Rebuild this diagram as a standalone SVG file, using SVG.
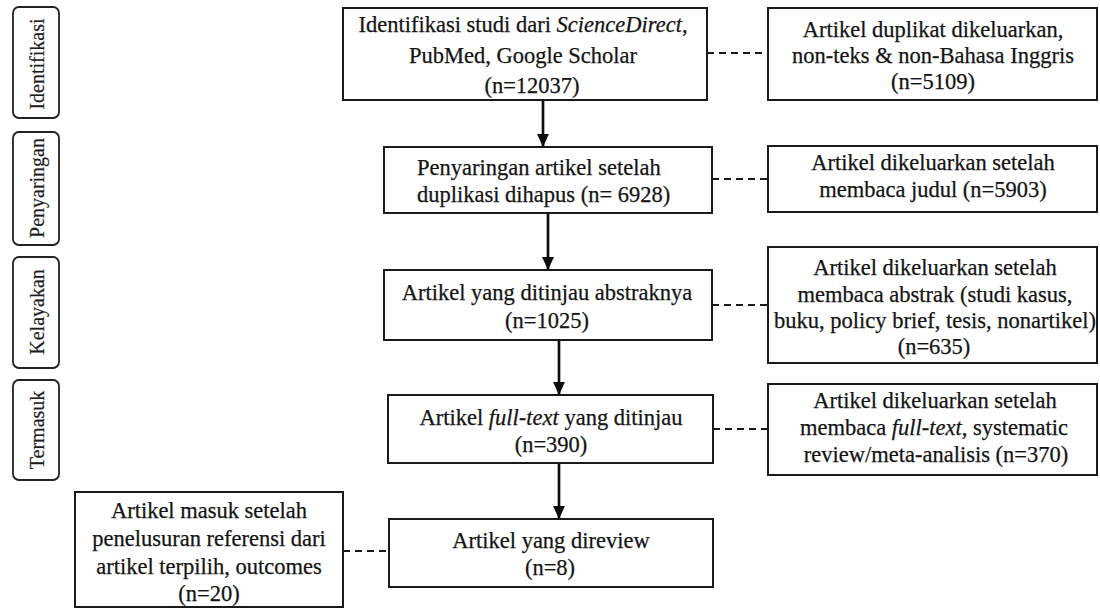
<svg xmlns="http://www.w3.org/2000/svg" width="1100" height="608" viewBox="0 0 1100 608">
<defs>
<style>
.box{fill:#fff;stroke:#1a1a1a;stroke-width:2}
.lab{fill:#fff;stroke:#222;stroke-width:1.8}
.t{font-family:"Liberation Serif","Times New Roman",serif;font-size:22.5px;fill:#141414;stroke:#141414;stroke-width:0.25;text-anchor:middle}
.tl{font-family:"Liberation Serif","Times New Roman",serif;font-size:20px;fill:#1e1e1e;stroke:#1e1e1e;stroke-width:0.2;text-anchor:middle}
.arr{stroke:#0d0d0d;stroke-width:2.7;fill:none}
.dash{stroke:#1a1a1a;stroke-width:2;stroke-dasharray:7 5;fill:none}
</style>
<marker id="ah" viewBox="0 0 12 12" refX="12" refY="6" markerWidth="13" markerHeight="13" markerUnits="userSpaceOnUse" orient="auto">
<path d="M0,0.5 L12,6 L0,11.5 z" fill="#0d0d0d"/>
</marker>
</defs>
<rect width="1100" height="608" fill="#fff"/>

<g id="stage-identifikasi">
<rect class="lab" x="13" y="7" width="46" height="111" rx="6"/>
<text class="tl" transform="translate(43.5,64) rotate(-90)">Identifikasi</text>
</g>
<g id="stage-penyaringan">
<rect class="lab" x="13" y="132" width="46" height="113" rx="6"/>
<text class="tl" transform="translate(43.5,188) rotate(-90)">Penyaringan</text>
</g>
<g id="stage-kelayakan">
<rect class="lab" x="13" y="257" width="46" height="111" rx="6"/>
<text class="tl" transform="translate(43.5,312) rotate(-90)">Kelayakan</text>
</g>
<g id="stage-termasuk">
<rect class="lab" x="13" y="380" width="46" height="100" rx="6"/>
<text class="tl" transform="translate(43.5,430) rotate(-90)">Termasuk</text>
</g>

<g id="connectors">
<line class="arr" x1="543" y1="100" x2="543" y2="147" marker-end="url(#ah)"/>
<line class="arr" x1="548" y1="213" x2="548" y2="270" marker-end="url(#ah)"/>
<line class="arr" x1="559" y1="340" x2="559" y2="395" marker-end="url(#ah)"/>
<line class="arr" x1="559" y1="463" x2="559" y2="519" marker-end="url(#ah)"/>
<line class="dash" x1="707" y1="53" x2="768" y2="53"/>
<line class="dash" x1="712" y1="179" x2="768" y2="179"/>
<line class="dash" x1="712" y1="305" x2="768" y2="305"/>
<line class="dash" x1="713" y1="429" x2="768" y2="429"/>
<line class="dash" x1="343" y1="551" x2="389" y2="551"/>
</g>

<g id="identifikasi-studi">
<rect class="box" x="343" y="8" width="364" height="92"/>
<text class="t" x="523" y="32">Identifikasi studi dari <tspan font-style="italic">ScienceDirect</tspan>,</text>
<text class="t" x="523" y="63">PubMed, Google Scholar</text>
<text class="t" x="532" y="93">(n=12037)</text>
</g>
<g id="duplikat-dikeluarkan">
<rect class="box" x="768" y="8" width="329" height="92"/>
<text class="t" x="933" y="37">Artikel duplikat dikeluarkan,</text>
<text class="t" x="933" y="63">non-teks &amp; non-Bahasa Inggris</text>
<text class="t" x="933" y="89">(n=5109)</text>
</g>
<g id="penyaringan-artikel">
<rect class="box" x="384" y="147" width="328" height="66"/>
<text class="t" x="417" y="175" style="text-anchor:start">Penyaringan artikel setelah</text>
<text class="t" x="417" y="202" style="text-anchor:start">duplikasi dihapus (n= 6928)</text>
</g>
<g id="dikeluarkan-judul">
<rect class="box" x="768" y="146" width="329" height="66"/>
<text class="t" x="933" y="170">Artikel dikeluarkan setelah</text>
<text class="t" x="933" y="197">membaca judul (n=5903)</text>
</g>
<g id="ditinjau-abstrak">
<rect class="box" x="384" y="270" width="328" height="70"/>
<text class="t" x="547" y="300">Artikel yang ditinjau abstraknya</text>
<text class="t" x="547" y="328">(n=1025)</text>
</g>
<g id="dikeluarkan-abstrak">
<rect class="box" x="768" y="247" width="329" height="116"/>
<text class="t" x="935" y="275">Artikel dikeluarkan setelah</text>
<text class="t" x="935" y="302">membaca abstrak (studi kasus,</text>
<text class="t" x="935" y="328">buku, policy brief, tesis, nonartikel)</text>
<text class="t" x="934" y="354">(n=635)</text>
</g>
<g id="full-text-ditinjau">
<rect class="box" x="388" y="395" width="325" height="68"/>
<text class="t" x="551" y="425">Artikel <tspan font-style="italic">full-text</tspan> yang ditinjau</text>
<text class="t" x="551" y="452">(n=390)</text>
</g>
<g id="dikeluarkan-full-text">
<rect class="box" x="768" y="384" width="329" height="91"/>
<text class="t" x="935" y="408">Artikel dikeluarkan setelah</text>
<text class="t" x="934" y="435">membaca <tspan font-style="italic">full-text</tspan>, systematic</text>
<text class="t" x="936" y="462">review/meta-analisis (n=370)</text>
</g>
<g id="direview">
<rect class="box" x="389" y="519" width="324" height="68"/>
<text class="t" x="551" y="548">Artikel yang direview</text>
<text class="t" x="550" y="575">(n=8)</text>
</g>
<g id="artikel-masuk">
<rect class="box" x="75" y="492" width="268" height="115"/>
<text class="t" x="209" y="518">Artikel masuk setelah</text>
<text class="t" x="209" y="546">penelusuran referensi dari</text>
<text class="t" x="209" y="574">artikel terpilih, outcomes</text>
<text class="t" x="209" y="601">(n=20)</text>
</g>
</svg>
